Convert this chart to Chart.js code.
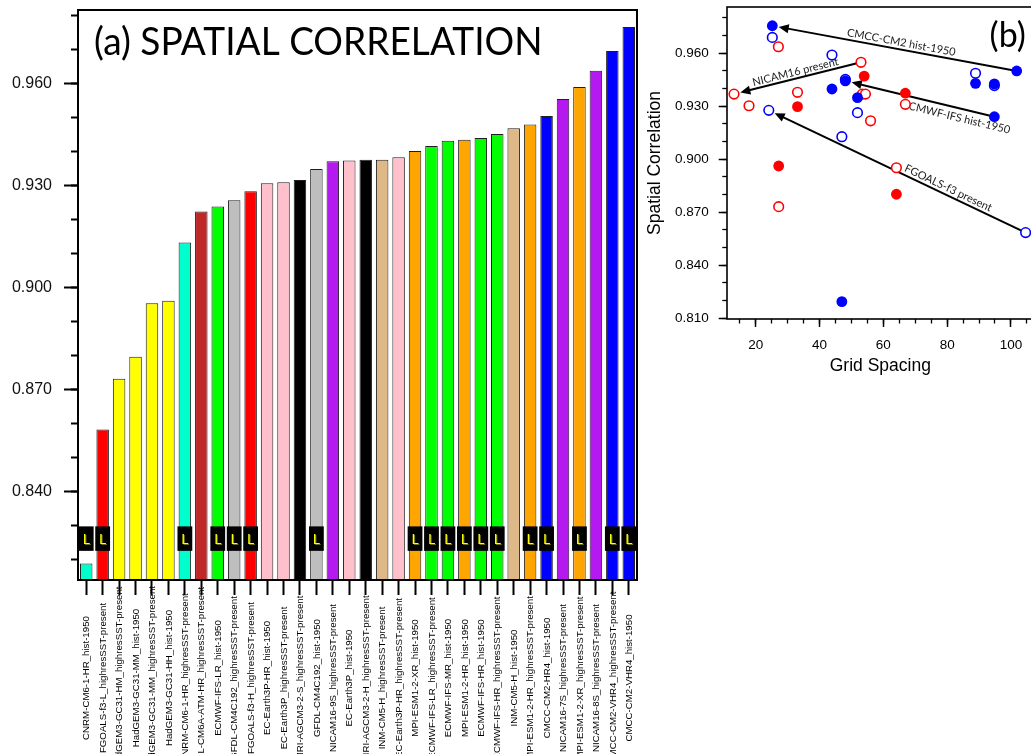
<!DOCTYPE html>
<html>
<head>
<meta charset="utf-8">
<script src="https://cdn.jsdelivr.net/npm/chart.js@4.4.1/dist/chart.umd.min.js"></script>
<style>
  html, body { margin: 0; padding: 0; background: #fff; overflow: hidden; }
  body { width: 1031px; height: 754px; position: relative; }
  #wrapA { position: absolute; left: 0; top: 0; }
  #wrapB { position: absolute; left: 640px; top: 0; }
</style>
</head>
<body>
<div id="wrapA"><canvas id="barChart" width="640" height="754"></canvas></div>
<div id="wrapB"><canvas id="scatterChart" width="400" height="380"></canvas></div>
<script>
// ---- panel (a) data ----
const models = [
  'CNRM-CM6-1-HR_hist-1950',
  'FGOALS-f3-L_highresSST-present',
  'HadGEM3-GC31-HM_highresSST-present',
  'HadGEM3-GC31-MM_hist-1950',
  'HadGEM3-GC31-MM_highresSST-present',
  'HadGEM3-GC31-HH_hist-1950',
  'CNRM-CM6-1-HR_highresSST-present',
  'IPSL-CM6A-ATM-HR_highresSST-present',
  'ECMWF-IFS-LR_hist-1950',
  'GFDL-CM4C192_highresSST-present',
  'FGOALS-f3-H_highresSST-present',
  'EC-Earth3P-HR_hist-1950',
  'EC-Earth3P_highresSST-present',
  'MRI-AGCM3-2-S_highresSST-present',
  'GFDL-CM4C192_hist-1950',
  'NICAM16-9S_highresSST-present',
  'EC-Earth3P_hist-1950',
  'MRI-AGCM3-2-H_highresSST-present',
  'INM-CM5-H_highresSST-present',
  'EC-Earth3P-HR_highresSST-present',
  'MPI-ESM1-2-XR_hist-1950',
  'ECMWF-IFS-LR_highresSST-present',
  'ECMWF-IFS-MR_hist-1950',
  'MPI-ESM1-2-HR_hist-1950',
  'ECMWF-IFS-HR_hist-1950',
  'ECMWF-IFS-HR_highresSST-present',
  'INM-CM5-H_hist-1950',
  'MPI-ESM1-2-HR_highresSST-present',
  'CMCC-CM2-HR4_hist-1950',
  'NICAM16-7S_highresSST-present',
  'MPI-ESM1-2-XR_highresSST-present',
  'NICAM16-8S_highresSST-present',
  'CMCC-CM2-VHR4_highresSST-present',
  'CMCC-CM2-VHR4_hist-1950'
];
const spatialCorr = [
  0.8189, 0.8583, 0.8732, 0.8797, 0.8954, 0.8962, 0.9133, 0.9224, 0.9239, 0.9257,
  0.9284, 0.9307, 0.9310, 0.9317, 0.9349, 0.9372, 0.9374, 0.9376, 0.9376, 0.9384,
  0.9402, 0.9417, 0.9432, 0.9435, 0.9440, 0.9452, 0.9469, 0.9480, 0.9505, 0.9555,
  0.9590, 0.9638, 0.9696, 0.9767
];
// 1 = model carries the "L" mark
const lFlag = [1,1,0,0,0,0,1,0,1,1,1,0,0,0,1,0,0,0,0,0,1,1,1,1,1,1,0,1,1,0,1,0,1,1];
const yTicksA = [0.84, 0.87, 0.90, 0.93, 0.96];

// ---- panel (b) data: grid spacing (km) vs spatial correlation ----
const blueHistX = [25.2, 101.8, 48.1, 43.9, 88.9, 94.8, 94.8, 51.9, 47.0];
const blueHistY = [0.9756, 0.9500, 0.9444, 0.9398, 0.9430, 0.9427, 0.9241, 0.9349, 0.8194];
const redHistX = [64.1, 27.2, 33.1, 66.9, 54.0];
const redHistY = [0.8802, 0.8962, 0.9298, 0.9374, 0.9471];
const bluePresX = [25.2, 43.9, 88.9, 24.1, 51.9, 47.0, 104.6, 94.8, 48.1];
const bluePresY = [0.9690, 0.9590, 0.9487, 0.9277, 0.9264, 0.9128, 0.8585, 0.9417, 0.9452];
const redPresX = [13.2, 17.9, 33.1, 53.4, 54.4, 66.9, 56.0, 53.0, 27.1, 64.1, 27.2];
const redPresY = [0.9369, 0.9303, 0.9379, 0.9369, 0.9369, 0.9311, 0.9218, 0.9549, 0.9637, 0.8952, 0.8732];

const arrowText = ['CMCC-CM2 hist-1950', 'NICAM16 present', 'ECMWF-IFS hist-1950', 'FGOALS-f3 present'];
const arrowFrom = [[101.8, 0.9500], [53.0, 0.9549], [94.8, 0.9241], [104.6, 0.8585]];
const arrowTo = [[25.2, 0.9756], [13.2, 0.9369], [48.1, 0.9444], [24.1, 0.9277]];

// ---- styling ----
const familyColors = [
  ['CNRM', '#00FFCC'], ['FGOALS', '#FF0000'], ['HadGEM', '#FFFF00'], ['IPSL', '#BE2828'],
  ['ECMWF', '#00FF00'], ['GFDL', '#BEBEBE'], ['EC-Earth', '#FFC0CB'], ['MRI', '#000000'],
  ['NICAM', '#B41AF0'], ['INM', '#DEB887'], ['MPI', '#FFA500'], ['CMCC', '#0000FF']
];
const colorFor = name => (familyColors.find(f => name.startsWith(f[0])) || ['', '#888'])[1];

const SANS = "'Liberation Sans', Arial, Helvetica, sans-serif";
const CALIBRI = "Lato, 'Open Sans', sans-serif";
const L_BOX = [0.8226, 0.8298];  // vertical extent of the black "L" badge

Chart.defaults.font.family = SANS;
Chart.defaults.color = '#000';

// fix axis box size and drop the label overhang padding
const fixBox = (dim, size) => s => {
  s[dim] = size;
  s.paddingLeft = s.paddingRight = s.paddingTop = s.paddingBottom = 0;
};

const framePlugin = {
  id: 'frame',
  afterDraw(chart, args, opts) {
    const { ctx, chartArea: a } = chart;
    ctx.save();
    ctx.strokeStyle = '#000';
    ctx.lineWidth = opts.width;
    ctx.strokeRect(a.left, a.top, a.right - a.left, a.bottom - a.top);
    ctx.restore();
  }
};

const panelLabelPlugin = {
  id: 'panelLabel',
  afterDraw(chart, args, opts) {
    const { ctx, chartArea: a } = chart;
    ctx.save();
    ctx.font = opts.font;
    ctx.fillStyle = '#000';
    ctx.textAlign = 'left';
    ctx.textBaseline = 'alphabetic';
    const x = opts.fromRight ? a.right - opts.dx : a.left + opts.dx;
    ctx.translate(x, a.top + opts.dy);
    ctx.scale(opts.squeeze || 1, 1);  // Calibri is narrower than Lato
    ctx.fillText(opts.text, 0, 0);
    ctx.restore();
  }
};

// rotated model names under the bars, centred on a fixed line
const modelLabelPlugin = {
  id: 'modelLabels',
  afterDraw(chart, args, opts) {
    const xs = chart.scales.x, ctx = chart.ctx;
    ctx.save();
    ctx.font = opts.font;
    ctx.fillStyle = opts.color;
    ctx.textAlign = 'center';
    ctx.textBaseline = 'middle';
    chart.data.labels.forEach((lab, i) => {
      ctx.save();
      ctx.translate(xs.getPixelForValue(i) + 0.5, xs.top + opts.centerOffset);
      ctx.rotate(-Math.PI / 2);
      ctx.fillText(lab, 0, 0);
      ctx.restore();
    });
    ctx.restore();
  }
};

const lMarkPlugin = {
  id: 'lMark',
  afterDatasetsDraw(chart) {
    const meta = chart.getDatasetMeta(1), ctx = chart.ctx;
    ctx.save();
    ctx.font = '14px ' + CALIBRI;
    ctx.textAlign = 'center';
    ctx.textBaseline = 'middle';
    ctx.fillStyle = '#FFFF00';
    ctx.shadowColor = 'rgba(120,120,0,0.9)';
    ctx.shadowOffsetX = 1;
    ctx.shadowOffsetY = 1;
    meta.data.forEach((el, i) => {
      if (chart.data.datasets[1].data[i] == null) return;
      ctx.fillText('L', el.x, (el.y + el.base) / 2 + 1);
    });
    ctx.restore();
  }
};

new Chart(document.getElementById('barChart'), {
  type: 'bar',
  data: {
    labels: models,
    datasets: [
      {
        label: 'Spatial correlation',
        data: spatialCorr,
        backgroundColor: models.map(colorFor),
        borderColor: '#1e1e1e',
        borderWidth: 1,
        borderSkipped: 'bottom',
        barPercentage: 0.76,
        categoryPercentage: 1,
        grouped: false,
        order: 2
      },
      {
        label: 'L',
        data: lFlag.map(f => (f ? L_BOX : null)),
        backgroundColor: '#000',
        borderWidth: 0,
        barPercentage: 0.9,
        categoryPercentage: 1,
        grouped: false,
        order: 1
      }
    ]
  },
  options: {
    responsive: false,
    animation: false,
    events: [],
    layout: { padding: { top: 10, right: 3, bottom: 0, left: 0 } },
    plugins: {
      legend: { display: false },
      tooltip: { enabled: false },
      frame: { width: 2 },
      panelLabel: { text: '(a) SPATIAL CORRELATION', font: '39px ' + CALIBRI, dx: 16, dy: 45, squeeze: 0.95 },
      modelLabels: { font: '9.7px ' + SANS, color: '#000', centerOffset: 98 }
    },
    scales: {
      x: {
        type: 'category',
        offset: true,
        ticks: { display: false },
        grid: { offset: false, drawOnChartArea: false, tickLength: 15, tickWidth: 2, tickColor: '#000' },
        border: { display: false },
        afterFit: fixBox('height', 174)
      },
      y: {
        type: 'linear',
        position: 'left',
        weight: 1,
        min: 0.81403,
        max: 0.98168,
        afterBuildTicks: s => { s.ticks = yTicksA.map(v => ({ value: v })); },
        ticks: {
          padding: 12,
          color: '#111',
          font: { size: 16 },
          callback: v => v.toFixed(3)
        },
        grid: { drawOnChartArea: false, tickLength: 14, tickWidth: 2, tickColor: '#000' },
        border: { display: false },
        afterFit: fixBox('width', 78)
      },
      yMinor: {
        type: 'linear',
        axis: 'y',
        position: 'left',
        weight: 0,
        min: 0.81403,
        max: 0.98168,
        ticks: { display: false, stepSize: 0.01, includeBounds: false },
        grid: { drawOnChartArea: false, tickLength: 7, tickWidth: 2, tickColor: '#000' },
        border: { display: false },
        afterFit: fixBox('width', 0)
      }
    }
  },
  plugins: [framePlugin, panelLabelPlugin, modelLabelPlugin, lMarkPlugin]
});

// ---- panel (b) ----
const arrowPlugin = {
  id: 'arrows',
  beforeDatasetsDraw(chart, args, opts) {
    const { ctx, scales: { x, y } } = chart;
    ctx.save();
    arrowText.forEach((txt, k) => {
      const x0 = x.getPixelForValue(arrowFrom[k][0]), y0 = y.getPixelForValue(arrowFrom[k][1]);
      const x1 = x.getPixelForValue(arrowTo[k][0]), y1 = y.getPixelForValue(arrowTo[k][1]);
      const len = Math.hypot(x1 - x0, y1 - y0);
      const ux = (x1 - x0) / len, uy = (y1 - y0) / len;
      const tx = x1 - ux * opts.gap, ty = y1 - uy * opts.gap;
      const hl = opts.headLength, hw = opts.headWidth;
      ctx.strokeStyle = '#000';
      ctx.fillStyle = '#000';
      ctx.lineWidth = 2;
      ctx.beginPath();
      ctx.moveTo(x0, y0);
      ctx.lineTo(tx - ux * hl * 0.8, ty - uy * hl * 0.8);
      ctx.stroke();
      ctx.beginPath();
      ctx.moveTo(tx, ty);
      ctx.lineTo(tx - ux * hl - uy * hw, ty - uy * hl + ux * hw);
      ctx.lineTo(tx - ux * hl + uy * hw, ty - uy * hl - ux * hw);
      ctx.closePath();
      ctx.fill();

      // label along the arrow
      const place = opts.labels[k];
      const lx = x0 + (tx - x0) * place.t, ly = y0 + (ty - y0) * place.t;
      let ang = Math.atan2(y1 - y0, x1 - x0);
      if (ang > Math.PI / 2) ang -= Math.PI;
      if (ang < -Math.PI / 2) ang += Math.PI;
      ctx.save();
      ctx.translate(lx, ly);
      ctx.rotate(ang);
      ctx.font = '11px ' + CALIBRI;
      ctx.fillStyle = '#222';
      ctx.textAlign = 'center';
      ctx.textBaseline = 'middle';
      ctx.fillText(txt, 0, place.off);
      ctx.restore();
    });
    ctx.restore();
  }
};

const toPts = (xs, ys) => xs.map((v, i) => ({ x: v, y: ys[i] }));
const filledStyle = c => ({ pointRadius: 5.4, pointBackgroundColor: c, pointBorderWidth: 0, pointBorderColor: c });
const openStyle = c => ({ pointRadius: 4.8, pointBackgroundColor: '#fff', pointBorderWidth: 1.6, pointBorderColor: c });

new Chart(document.getElementById('scatterChart'), {
  type: 'scatter',
  data: {
    datasets: [
      Object.assign({ label: 'L hist-1950', data: toPts(blueHistX, blueHistY) }, filledStyle('#0000FF')),
      Object.assign({ label: 'hist-1950', data: toPts(redHistX, redHistY) }, filledStyle('#FF0000')),
      Object.assign({ label: 'L highresSST-present', data: toPts(bluePresX, bluePresY) }, openStyle('#0000FF')),
      Object.assign({ label: 'highresSST-present', data: toPts(redPresX, redPresY) }, openStyle('#FF0000'))
    ]
  },
  options: {
    responsive: false,
    animation: false,
    events: [],
    clip: false,
    layout: { padding: { top: 7, right: 2, bottom: 0, left: 0 } },
    plugins: {
      legend: { display: false },
      tooltip: { enabled: false },
      frame: { width: 1.6 },
      panelLabel: { text: '(b)', font: '34px ' + CALIBRI, dx: 44, dy: 40, fromRight: true },
      arrows: {
        gap: 6.5,
        headLength: 10,
        headWidth: 4.5,
        labels: [
          { t: 0.49, off: -7 },
          { t: 0.53, off: -6.5 },
          { t: 0.25, off: 9.5 },
          { t: 0.32, off: -7 }
        ]
      }
    },
    scales: {
      x: {
        type: 'linear',
        position: 'bottom',
        weight: 1,
        min: 11,
        max: 107.1,
        ticks: { stepSize: 20, includeBounds: false, padding: 10, maxRotation: 0, font: { size: 13.5 } },
        grid: { drawOnChartArea: false, tickLength: 8, tickWidth: 1.5, tickColor: '#000' },
        border: { display: false },
        title: { display: true, text: 'Grid Spacing', font: { size: 17.5 }, padding: { top: 0, bottom: 3 } },
        afterFit: fixBox('height', 61)
      },
      xMinor: {
        type: 'linear',
        axis: 'x',
        position: 'bottom',
        weight: 0,
        min: 11,
        max: 107.1,
        ticks: { display: false, stepSize: 5, includeBounds: false },
        grid: { drawOnChartArea: false, tickLength: 4.5, tickWidth: 1.3, tickColor: '#000' },
        border: { display: false },
        afterFit: fixBox('height', 0)
      },
      y: {
        type: 'linear',
        position: 'left',
        weight: 1,
        min: 0.8096,
        max: 0.9862,
        ticks: { stepSize: 0.03, includeBounds: false, padding: 10, font: { size: 13.5 }, callback: v => v.toFixed(3) },
        grid: { drawOnChartArea: false, tickLength: 8.3, tickWidth: 1.5, tickColor: '#000' },
        border: { display: false },
        title: { display: true, text: 'Spatial Correlation', font: { size: 17.5 }, padding: { top: 5, bottom: 0 } },
        afterFit: fixBox('width', 87)
      },
      yMinor: {
        type: 'linear',
        axis: 'y',
        position: 'left',
        weight: 0,
        min: 0.8096,
        max: 0.9862,
        ticks: { display: false, stepSize: 0.01, includeBounds: false },
        grid: { drawOnChartArea: false, tickLength: 4.7, tickWidth: 1.3, tickColor: '#000' },
        border: { display: false },
        afterFit: fixBox('width', 0)
      }
    }
  },
  plugins: [framePlugin, panelLabelPlugin, arrowPlugin]
});
</script>
</body>
</html>
